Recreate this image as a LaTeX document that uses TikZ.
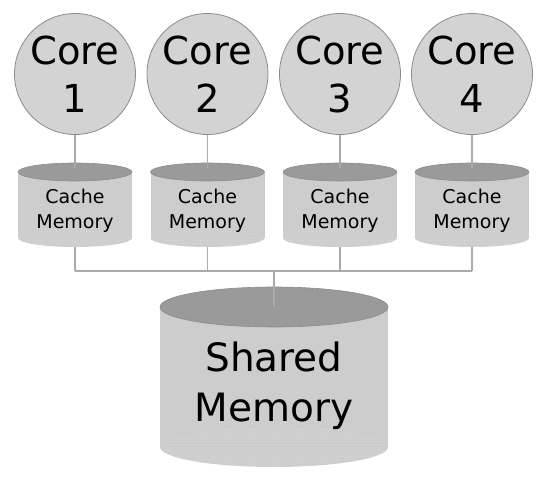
\documentclass[tikz,border=0pt]{standalone}
\usepackage{fontspec}
\setmainfont{DejaVu Sans}
\usetikzlibrary{patterns}
\definecolor{corefill}{HTML}{D3D3D3}
\definecolor{coreline}{HTML}{8C8C8C}
\definecolor{bodyfill}{HTML}{CDCDCD}
\definecolor{topfill}{HTML}{9A9A9A}
\definecolor{botfill}{HTML}{D8D8D8}
\definecolor{conncol}{HTML}{AAAAAA}
\newcommand\drawcyl[5]{% cx, top cy, bottom cy, rx, ry
  \fill[bodyfill] (#1-#4,#2) rectangle (#1+#4,#3);
  \fill[bodyfill] (#1,#3) ellipse [x radius=#4, y radius=#5];
  \fill[pattern=dots, pattern color=botfill!60!white] (#1,#3) ellipse [x radius=#4, y radius=#5];
  \filldraw[fill=topfill, draw=coreline, line width=0.6pt] (#1,#2) ellipse [x radius=#4, y radius=#5];
}
\begin{document}
\begin{tikzpicture}[x=1pt,y=-1pt,
  corenode/.style={circle, draw=coreline, fill=corefill, line width=0.8pt, minimum size=121pt, inner sep=0pt, align=center, font=\fontsize{38.5}{48}\selectfont},
  cachetext/.style={align=center, inner sep=0pt, font=\fontsize{19}{25}\selectfont},
  sharedtext/.style={align=center, inner sep=0pt, font=\fontsize{39}{50}\selectfont},
  conn/.style={draw=conncol, line width=1.3pt}]
\useasboundingbox (0,0) rectangle (547,481);
\foreach \i/\x in {1/75,2/207.5,3/340,4/472}{
  \node[corenode] (core\i) at (\x,74) {Core\\\i};
  \drawcyl{\x}{172}{238}{57}{9}
  \node[cachetext] (cache\i) at (\x,210.5) {Cache\\Memory};
  \coordinate (ctop\i) at (\x,168);
  \coordinate (cbot\i) at (\x,247);
  \coordinate (bus\i) at (\x,271);
  \draw[conn] (core\i.south) -- (ctop\i);
  \draw[conn] (cbot\i) -- (bus\i);
}
\drawcyl{274}{307}{447}{114}{20}
\node[sharedtext] (shared) at (274,386) {Shared\\Memory};
\coordinate (busmid) at (274,271);
\coordinate (stop) at (274,307);
\draw[conn] (bus1) -- (bus4);
\draw[conn] (busmid) -- (stop);
\end{tikzpicture}
\end{document}
